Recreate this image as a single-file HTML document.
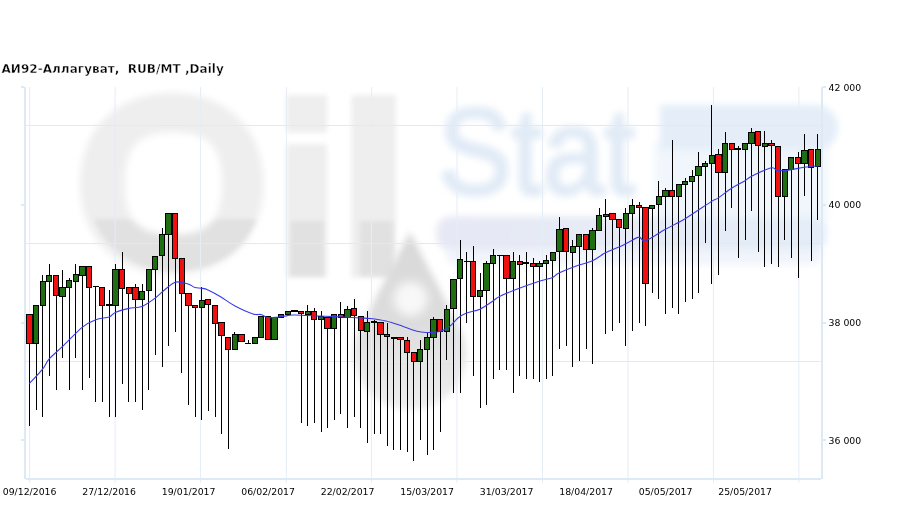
<!DOCTYPE html><html><head><meta charset="utf-8"><title>chart</title><style>
html,body{margin:0;padding:0;background:#fff}body{width:909px;height:509px;overflow:hidden;position:relative;font-family:"DejaVu Sans","Liberation Sans",sans-serif}
svg{position:absolute;left:0;top:0;display:block}
.t{font-family:"DejaVu Sans","Liberation Sans",sans-serif;font-weight:bold;font-size:12px;fill:#000;letter-spacing:0.04px;stroke:#fff;stroke-width:0.35px}
.l{font-family:"DejaVu Sans","Liberation Sans",sans-serif;font-size:9.33px;fill:#000}
</style></head><body>
<svg width="909" height="509" viewBox="0 0 909 509">
<defs><filter id="b6" x="-20%" y="-20%" width="140%" height="140%"><feGaussianBlur stdDeviation="5"/></filter><filter id="b3" x="-20%" y="-20%" width="140%" height="140%"><feGaussianBlur stdDeviation="2"/></filter><filter id="b25" x="-20%" y="-20%" width="140%" height="140%"><feGaussianBlur stdDeviation="2.6"/></filter><filter id="b4" x="-20%" y="-20%" width="140%" height="140%"><feGaussianBlur stdDeviation="3.5"/></filter><filter id="b8" x="-30%" y="-30%" width="160%" height="160%"><feGaussianBlur stdDeviation="7"/></filter></defs>
<rect width="909" height="509" fill="#fff"/>
<linearGradient id="tt" gradientUnits="userSpaceOnUse" x1="0" y1="0" x2="0" y2="509"><stop offset="0.43" stop-color="#eeeeee"/><stop offset="0.434" stop-color="#e5e5e5"/></linearGradient>
<clipPath id="low"><rect x="0" y="219" width="909" height="290"/></clipPath>
<linearGradient id="bg" gradientUnits="userSpaceOnUse" x1="437" y1="0" x2="826" y2="0"><stop offset="0" stop-color="#e6e8f4"/><stop offset="0.5" stop-color="#e6ebf6"/><stop offset="1" stop-color="#e3edf8"/></linearGradient>
<g id="wm">
<path filter="url(#b4)" fill="#eeeeee" d="M80.10000000000001,183.8 C80.10000000000001,129.32000000000002 116.78,93.00000000000001 171.8,93.00000000000001 C226.82000000000002,93.00000000000001 263.5,129.32000000000002 263.5,183.8 C263.5,238.28 226.82000000000002,274.6 171.8,274.6 C116.78,274.6 80.10000000000001,238.28 80.10000000000001,183.8 Z"/>
<g filter="url(#b3)"><path clip-path="url(#low)" fill="#e1e1e1" d="M87.89999999999999,183.8 C87.89999999999999,131.72000000000003 122.82,97.00000000000001 175.2,97.00000000000001 C227.57999999999998,97.00000000000001 262.5,131.72000000000003 262.5,183.8 C262.5,235.88 227.57999999999998,270.6 175.2,270.6 C122.82,270.6 87.89999999999999,235.88 87.89999999999999,183.8 Z"/></g>
<path filter="url(#b4)" fill="#ffffff" d="M124.80000000000001,183.5 C124.80000000000001,146.636 138.40800000000002,132.3 173.4,132.3 C208.392,132.3 222.0,146.636 222.0,183.5 C222.0,220.364 208.392,234.7 173.4,234.7 C138.40800000000002,234.7 124.80000000000001,220.364 124.80000000000001,183.5 Z"/>
<rect filter="url(#b25)" x="286.5" y="95" width="40.5" height="37.5" fill="#eeeeee"/>
<rect filter="url(#b25)" x="286.5" y="144" width="40.5" height="133.5" fill="#eeeeee"/>
<rect filter="url(#b3)" x="290.5" y="221" width="33" height="55" fill="#e1e1e1"/>
<rect filter="url(#b25)" x="351.5" y="95" width="44.5" height="182.5" fill="#eeeeee"/>
<rect filter="url(#b3)" x="360" y="221" width="33" height="55" fill="#e1e1e1"/>
<linearGradient id="dg" gradientUnits="userSpaceOnUse" x1="0" y1="232" x2="0" y2="411"><stop offset="0" stop-color="#d8d8d8"/><stop offset="0.5" stop-color="#dddddd"/><stop offset="1" stop-color="#eeeeee"/></linearGradient>
<path filter="url(#b4)" fill="url(#dg)" d="M409.9,232 L459.6,328.1 A56,56 0 1 1 360.2,328.1 Z"/>
<circle filter="url(#b6)" cx="410.6" cy="300" r="25" fill="#dcdcdc"/>
<circle filter="url(#b6)" cx="410.6" cy="299" r="17" fill="#f8f8f8"/>
<rect filter="url(#b6)" x="655" y="142" width="172" height="78" fill="#f0f6fb"/>
<text filter="url(#b4)" x="438" y="194" font-family="Liberation Sans,Arial,sans-serif" font-size="122" fill="#e1ebf6" stroke="#e1ebf6" stroke-width="3.5" stroke-linejoin="round" textLength="197" lengthAdjust="spacingAndGlyphs">Stat</text>
<path filter="url(#b4)" fill="#e4edf8" d="M660,105 H816 A22,22.5 0 0 1 816,150 H660 Z"/>
<rect filter="url(#b4)" x="446" y="246" width="376" height="19" rx="8" fill="#f1f5fb"/>
<rect filter="url(#b4)" x="436.5" y="216.5" width="390" height="34" rx="14" fill="url(#bg)"/>
</g>
<g>
<rect x="29.10" y="87" width="1" height="396" fill="#e5edf7"/>
<rect x="114.58" y="87" width="1" height="396" fill="#e5edf7"/>
<rect x="200.06" y="87" width="1" height="396" fill="#e5edf7"/>
<rect x="285.90" y="87" width="1" height="396" fill="#e5edf7"/>
<rect x="371.01" y="87" width="1" height="396" fill="#e5edf7"/>
<rect x="456.49" y="87" width="1" height="396" fill="#e5edf7"/>
<rect x="541.97" y="87" width="1" height="396" fill="#e5edf7"/>
<rect x="627.45" y="87" width="1" height="396" fill="#e5edf7"/>
<rect x="712.92" y="87" width="1" height="396" fill="#e5edf7"/>
<rect x="798.40" y="87" width="1" height="396" fill="#e5edf7"/>
</g><g shape-rendering="crispEdges">
<rect x="26" y="125" width="795" height="1" fill="#dfeaf5"/>
<rect x="26" y="243" width="795" height="1" fill="#dfeaf5"/>
<rect x="26" y="361" width="795" height="1" fill="#dfeaf5"/>
<rect x="24" y="87" width="2" height="392" fill="#dde9f4"/>
<rect x="821" y="87" width="2" height="392" fill="#dde9f4"/>
<rect x="26" y="478" width="795" height="2" fill="#dde9f4"/>
<rect x="21" y="86" width="3" height="2" fill="#dde9f4"/>
<rect x="823" y="86" width="3" height="2" fill="#dde9f4"/>
<rect x="21" y="204" width="3" height="2" fill="#dde9f4"/>
<rect x="823" y="204" width="3" height="2" fill="#dde9f4"/>
<rect x="21" y="322" width="3" height="2" fill="#dde9f4"/>
<rect x="823" y="322" width="3" height="2" fill="#dde9f4"/>
<rect x="21" y="439" width="3" height="2" fill="#dde9f4"/>
<rect x="823" y="439" width="3" height="2" fill="#dde9f4"/>
</g>
<g shape-rendering="crispEdges">
<rect x="29" y="314" width="1" height="112" fill="#000"/>
<rect x="26" y="314" width="7" height="30" fill="#000"/>
<rect x="27" y="315" width="5" height="28" fill="#f01010"/>
<rect x="36" y="305" width="1" height="105" fill="#000"/>
<rect x="33" y="305" width="6" height="39" fill="#000"/>
<rect x="34" y="306" width="4" height="37" fill="#1f6e12"/>
<rect x="42" y="275" width="1" height="142" fill="#000"/>
<rect x="40" y="281" width="6" height="25" fill="#000"/>
<rect x="41" y="282" width="4" height="23" fill="#1f6e12"/>
<rect x="49" y="264" width="1" height="112" fill="#000"/>
<rect x="46" y="275" width="6" height="7" fill="#000"/>
<rect x="47" y="276" width="4" height="5" fill="#1f6e12"/>
<rect x="56" y="275" width="1" height="115" fill="#000"/>
<rect x="53" y="275" width="6" height="21" fill="#000"/>
<rect x="54" y="276" width="4" height="19" fill="#f01010"/>
<rect x="62" y="270" width="1" height="88" fill="#000"/>
<rect x="59" y="287" width="7" height="10" fill="#000"/>
<rect x="60" y="288" width="5" height="8" fill="#1f6e12"/>
<rect x="69" y="278" width="1" height="112" fill="#000"/>
<rect x="66" y="280" width="6" height="8" fill="#000"/>
<rect x="67" y="281" width="4" height="6" fill="#1f6e12"/>
<rect x="75" y="264" width="1" height="94" fill="#000"/>
<rect x="73" y="274" width="6" height="8" fill="#000"/>
<rect x="74" y="275" width="4" height="6" fill="#1f6e12"/>
<rect x="82" y="266" width="1" height="124" fill="#000"/>
<rect x="79" y="266" width="7" height="10" fill="#000"/>
<rect x="80" y="267" width="5" height="8" fill="#1f6e12"/>
<rect x="89" y="266" width="1" height="112" fill="#000"/>
<rect x="86" y="266" width="6" height="22" fill="#000"/>
<rect x="87" y="267" width="4" height="20" fill="#f01010"/>
<rect x="95" y="286" width="1" height="116" fill="#000"/>
<rect x="93" y="286" width="6" height="1" fill="#000"/>
<rect x="102" y="287" width="1" height="115" fill="#000"/>
<rect x="99" y="287" width="6" height="19" fill="#000"/>
<rect x="100" y="288" width="4" height="17" fill="#f01010"/>
<rect x="109" y="290" width="1" height="127" fill="#000"/>
<rect x="106" y="304" width="6" height="2" fill="#000"/>
<rect x="115" y="264" width="1" height="153" fill="#000"/>
<rect x="112" y="269" width="7" height="37" fill="#000"/>
<rect x="113" y="270" width="5" height="35" fill="#1f6e12"/>
<rect x="122" y="252" width="1" height="132" fill="#000"/>
<rect x="119" y="269" width="6" height="20" fill="#000"/>
<rect x="120" y="270" width="4" height="18" fill="#f01010"/>
<rect x="128" y="287" width="1" height="115" fill="#000"/>
<rect x="126" y="287" width="6" height="7" fill="#000"/>
<rect x="127" y="288" width="4" height="5" fill="#f01010"/>
<rect x="135" y="284" width="1" height="118" fill="#000"/>
<rect x="132" y="287" width="7" height="13" fill="#000"/>
<rect x="133" y="288" width="5" height="11" fill="#f01010"/>
<rect x="142" y="284" width="1" height="126" fill="#000"/>
<rect x="139" y="291" width="6" height="9" fill="#000"/>
<rect x="140" y="292" width="4" height="7" fill="#1f6e12"/>
<rect x="148" y="269" width="1" height="121" fill="#000"/>
<rect x="146" y="269" width="6" height="22" fill="#000"/>
<rect x="147" y="270" width="4" height="20" fill="#1f6e12"/>
<rect x="155" y="256" width="1" height="99" fill="#000"/>
<rect x="152" y="256" width="6" height="14" fill="#000"/>
<rect x="153" y="257" width="4" height="12" fill="#1f6e12"/>
<rect x="162" y="228" width="1" height="139" fill="#000"/>
<rect x="159" y="234" width="6" height="22" fill="#000"/>
<rect x="160" y="235" width="4" height="20" fill="#1f6e12"/>
<rect x="168" y="213" width="1" height="133" fill="#000"/>
<rect x="165" y="213" width="7" height="22" fill="#000"/>
<rect x="166" y="214" width="5" height="20" fill="#1f6e12"/>
<rect x="175" y="213" width="1" height="119" fill="#000"/>
<rect x="172" y="213" width="6" height="46" fill="#000"/>
<rect x="173" y="214" width="4" height="44" fill="#f01010"/>
<rect x="181" y="258" width="1" height="115" fill="#000"/>
<rect x="179" y="258" width="6" height="36" fill="#000"/>
<rect x="180" y="259" width="4" height="34" fill="#f01010"/>
<rect x="188" y="293" width="1" height="112" fill="#000"/>
<rect x="185" y="293" width="7" height="13" fill="#000"/>
<rect x="186" y="294" width="5" height="11" fill="#f01010"/>
<rect x="195" y="305" width="1" height="112" fill="#000"/>
<rect x="192" y="305" width="6" height="3" fill="#000"/>
<rect x="193" y="306" width="4" height="1" fill="#f01010"/>
<rect x="201" y="287" width="1" height="133" fill="#000"/>
<rect x="199" y="300" width="6" height="8" fill="#000"/>
<rect x="200" y="301" width="4" height="6" fill="#1f6e12"/>
<rect x="208" y="299" width="1" height="112" fill="#000"/>
<rect x="205" y="299" width="6" height="6" fill="#000"/>
<rect x="206" y="300" width="4" height="4" fill="#f01010"/>
<rect x="215" y="305" width="1" height="112" fill="#000"/>
<rect x="212" y="305" width="6" height="19" fill="#000"/>
<rect x="213" y="306" width="4" height="17" fill="#f01010"/>
<rect x="221" y="322" width="1" height="112" fill="#000"/>
<rect x="218" y="322" width="7" height="14" fill="#000"/>
<rect x="219" y="323" width="5" height="12" fill="#f01010"/>
<rect x="228" y="337" width="1" height="112" fill="#000"/>
<rect x="225" y="337" width="6" height="13" fill="#000"/>
<rect x="226" y="338" width="4" height="11" fill="#f01010"/>
<rect x="234" y="332" width="1" height="18" fill="#000"/>
<rect x="232" y="334" width="6" height="16" fill="#000"/>
<rect x="233" y="335" width="4" height="14" fill="#1f6e12"/>
<rect x="241" y="334" width="1" height="8" fill="#000"/>
<rect x="238" y="334" width="7" height="8" fill="#000"/>
<rect x="239" y="335" width="5" height="6" fill="#f01010"/>
<rect x="248" y="340" width="1" height="3" fill="#000"/>
<rect x="245" y="343" width="6" height="1" fill="#000"/>
<rect x="254" y="337" width="1" height="7" fill="#000"/>
<rect x="252" y="337" width="6" height="7" fill="#000"/>
<rect x="253" y="338" width="4" height="5" fill="#1f6e12"/>
<rect x="261" y="316" width="1" height="22" fill="#000"/>
<rect x="258" y="316" width="6" height="22" fill="#000"/>
<rect x="259" y="317" width="4" height="20" fill="#1f6e12"/>
<rect x="268" y="316" width="1" height="24" fill="#000"/>
<rect x="265" y="316" width="6" height="24" fill="#000"/>
<rect x="266" y="317" width="4" height="22" fill="#f01010"/>
<rect x="274" y="317" width="1" height="23" fill="#000"/>
<rect x="271" y="317" width="7" height="23" fill="#000"/>
<rect x="272" y="318" width="5" height="21" fill="#1f6e12"/>
<rect x="281" y="314" width="1" height="4" fill="#000"/>
<rect x="278" y="314" width="6" height="4" fill="#000"/>
<rect x="279" y="315" width="4" height="2" fill="#1f6e12"/>
<rect x="287" y="311" width="1" height="4" fill="#000"/>
<rect x="285" y="311" width="6" height="4" fill="#000"/>
<rect x="286" y="312" width="4" height="2" fill="#1f6e12"/>
<rect x="294" y="310" width="1" height="1" fill="#000"/>
<rect x="291" y="310" width="7" height="2" fill="#000"/>
<rect x="301" y="311" width="1" height="112" fill="#000"/>
<rect x="298" y="311" width="6" height="3" fill="#000"/>
<rect x="299" y="312" width="4" height="1" fill="#f01010"/>
<rect x="307" y="305" width="1" height="121" fill="#000"/>
<rect x="305" y="311" width="6" height="4" fill="#000"/>
<rect x="306" y="312" width="4" height="2" fill="#1f6e12"/>
<rect x="314" y="308" width="1" height="115" fill="#000"/>
<rect x="311" y="311" width="6" height="9" fill="#000"/>
<rect x="312" y="312" width="4" height="7" fill="#f01010"/>
<rect x="321" y="311" width="1" height="121" fill="#000"/>
<rect x="318" y="316" width="6" height="4" fill="#000"/>
<rect x="319" y="317" width="4" height="2" fill="#1f6e12"/>
<rect x="327" y="317" width="1" height="111" fill="#000"/>
<rect x="324" y="317" width="7" height="12" fill="#000"/>
<rect x="325" y="318" width="5" height="10" fill="#f01010"/>
<rect x="334" y="314" width="1" height="106" fill="#000"/>
<rect x="331" y="314" width="6" height="15" fill="#000"/>
<rect x="332" y="315" width="4" height="13" fill="#1f6e12"/>
<rect x="340" y="302" width="1" height="112" fill="#000"/>
<rect x="338" y="314" width="6" height="4" fill="#000"/>
<rect x="339" y="315" width="4" height="2" fill="#f01010"/>
<rect x="347" y="306" width="1" height="122" fill="#000"/>
<rect x="344" y="309" width="7" height="9" fill="#000"/>
<rect x="345" y="310" width="5" height="7" fill="#1f6e12"/>
<rect x="354" y="299" width="1" height="118" fill="#000"/>
<rect x="351" y="308" width="6" height="8" fill="#000"/>
<rect x="352" y="309" width="4" height="6" fill="#f01010"/>
<rect x="360" y="316" width="1" height="112" fill="#000"/>
<rect x="358" y="316" width="6" height="15" fill="#000"/>
<rect x="359" y="317" width="4" height="13" fill="#f01010"/>
<rect x="367" y="311" width="1" height="132" fill="#000"/>
<rect x="364" y="322" width="6" height="10" fill="#000"/>
<rect x="365" y="323" width="4" height="8" fill="#1f6e12"/>
<rect x="374" y="320" width="1" height="114" fill="#000"/>
<rect x="371" y="321" width="6" height="2" fill="#000"/>
<rect x="380" y="322" width="1" height="112" fill="#000"/>
<rect x="377" y="322" width="7" height="13" fill="#000"/>
<rect x="378" y="323" width="5" height="11" fill="#f01010"/>
<rect x="387" y="323" width="1" height="123" fill="#000"/>
<rect x="384" y="334" width="6" height="3" fill="#000"/>
<rect x="385" y="335" width="4" height="1" fill="#f01010"/>
<rect x="393" y="337" width="1" height="113" fill="#000"/>
<rect x="391" y="337" width="6" height="2" fill="#000"/>
<rect x="400" y="337" width="1" height="113" fill="#000"/>
<rect x="397" y="337" width="7" height="3" fill="#000"/>
<rect x="398" y="338" width="5" height="1" fill="#f01010"/>
<rect x="407" y="337" width="1" height="115" fill="#000"/>
<rect x="404" y="340" width="6" height="13" fill="#000"/>
<rect x="405" y="341" width="4" height="11" fill="#f01010"/>
<rect x="413" y="352" width="1" height="109" fill="#000"/>
<rect x="411" y="352" width="6" height="10" fill="#000"/>
<rect x="412" y="353" width="4" height="8" fill="#f01010"/>
<rect x="420" y="340" width="1" height="100" fill="#000"/>
<rect x="417" y="349" width="6" height="13" fill="#000"/>
<rect x="418" y="350" width="4" height="11" fill="#1f6e12"/>
<rect x="427" y="332" width="1" height="123" fill="#000"/>
<rect x="424" y="337" width="6" height="13" fill="#000"/>
<rect x="425" y="338" width="4" height="11" fill="#1f6e12"/>
<rect x="433" y="317" width="1" height="133" fill="#000"/>
<rect x="430" y="319" width="7" height="19" fill="#000"/>
<rect x="431" y="320" width="5" height="17" fill="#1f6e12"/>
<rect x="440" y="319" width="1" height="113" fill="#000"/>
<rect x="437" y="319" width="6" height="13" fill="#000"/>
<rect x="438" y="320" width="4" height="11" fill="#f01010"/>
<rect x="446" y="305" width="1" height="55" fill="#000"/>
<rect x="444" y="309" width="6" height="23" fill="#000"/>
<rect x="445" y="310" width="4" height="21" fill="#1f6e12"/>
<rect x="453" y="279" width="1" height="114" fill="#000"/>
<rect x="450" y="279" width="7" height="30" fill="#000"/>
<rect x="451" y="280" width="5" height="28" fill="#1f6e12"/>
<rect x="460" y="240" width="1" height="153" fill="#000"/>
<rect x="457" y="259" width="6" height="20" fill="#000"/>
<rect x="458" y="260" width="4" height="18" fill="#1f6e12"/>
<rect x="466" y="252" width="1" height="71" fill="#000"/>
<rect x="464" y="261" width="6" height="1" fill="#000"/>
<rect x="473" y="246" width="1" height="130" fill="#000"/>
<rect x="470" y="261" width="6" height="36" fill="#000"/>
<rect x="471" y="262" width="4" height="34" fill="#f01010"/>
<rect x="480" y="273" width="1" height="135" fill="#000"/>
<rect x="477" y="290" width="6" height="7" fill="#000"/>
<rect x="478" y="291" width="4" height="5" fill="#1f6e12"/>
<rect x="486" y="261" width="1" height="144" fill="#000"/>
<rect x="483" y="263" width="7" height="28" fill="#000"/>
<rect x="484" y="264" width="5" height="26" fill="#1f6e12"/>
<rect x="493" y="249" width="1" height="130" fill="#000"/>
<rect x="490" y="255" width="6" height="9" fill="#000"/>
<rect x="491" y="256" width="4" height="7" fill="#1f6e12"/>
<rect x="499" y="255" width="1" height="115" fill="#000"/>
<rect x="497" y="255" width="6" height="1" fill="#000"/>
<rect x="506" y="255" width="1" height="115" fill="#000"/>
<rect x="503" y="255" width="7" height="24" fill="#000"/>
<rect x="504" y="256" width="5" height="22" fill="#f01010"/>
<rect x="513" y="252" width="1" height="141" fill="#000"/>
<rect x="510" y="261" width="6" height="18" fill="#000"/>
<rect x="511" y="262" width="4" height="16" fill="#1f6e12"/>
<rect x="519" y="255" width="1" height="121" fill="#000"/>
<rect x="517" y="261" width="6" height="4" fill="#000"/>
<rect x="518" y="262" width="4" height="2" fill="#f01010"/>
<rect x="526" y="252" width="1" height="127" fill="#000"/>
<rect x="523" y="262" width="6" height="2" fill="#000"/>
<rect x="533" y="258" width="1" height="121" fill="#000"/>
<rect x="530" y="263" width="6" height="4" fill="#000"/>
<rect x="531" y="264" width="4" height="2" fill="#f01010"/>
<rect x="539" y="261" width="1" height="121" fill="#000"/>
<rect x="536" y="263" width="7" height="4" fill="#000"/>
<rect x="537" y="264" width="5" height="2" fill="#1f6e12"/>
<rect x="546" y="255" width="1" height="124" fill="#000"/>
<rect x="543" y="260" width="6" height="4" fill="#000"/>
<rect x="544" y="261" width="4" height="2" fill="#1f6e12"/>
<rect x="552" y="252" width="1" height="124" fill="#000"/>
<rect x="550" y="252" width="6" height="9" fill="#000"/>
<rect x="551" y="253" width="4" height="7" fill="#1f6e12"/>
<rect x="559" y="217" width="1" height="132" fill="#000"/>
<rect x="556" y="229" width="7" height="23" fill="#000"/>
<rect x="557" y="230" width="5" height="21" fill="#1f6e12"/>
<rect x="566" y="228" width="1" height="118" fill="#000"/>
<rect x="563" y="228" width="6" height="24" fill="#000"/>
<rect x="564" y="229" width="4" height="22" fill="#f01010"/>
<rect x="572" y="240" width="1" height="127" fill="#000"/>
<rect x="570" y="246" width="6" height="7" fill="#000"/>
<rect x="571" y="247" width="4" height="5" fill="#1f6e12"/>
<rect x="579" y="234" width="1" height="127" fill="#000"/>
<rect x="576" y="234" width="6" height="13" fill="#000"/>
<rect x="577" y="235" width="4" height="11" fill="#1f6e12"/>
<rect x="586" y="234" width="1" height="115" fill="#000"/>
<rect x="583" y="234" width="6" height="16" fill="#000"/>
<rect x="584" y="235" width="4" height="14" fill="#f01010"/>
<rect x="592" y="228" width="1" height="136" fill="#000"/>
<rect x="589" y="230" width="7" height="20" fill="#000"/>
<rect x="590" y="231" width="5" height="18" fill="#1f6e12"/>
<rect x="599" y="208" width="1" height="23" fill="#000"/>
<rect x="596" y="215" width="6" height="16" fill="#000"/>
<rect x="597" y="216" width="4" height="14" fill="#1f6e12"/>
<rect x="605" y="199" width="1" height="135" fill="#000"/>
<rect x="603" y="214" width="6" height="3" fill="#000"/>
<rect x="604" y="215" width="4" height="1" fill="#1f6e12"/>
<rect x="612" y="213" width="1" height="118" fill="#000"/>
<rect x="609" y="213" width="7" height="7" fill="#000"/>
<rect x="610" y="214" width="5" height="5" fill="#f01010"/>
<rect x="619" y="219" width="1" height="104" fill="#000"/>
<rect x="616" y="219" width="6" height="9" fill="#000"/>
<rect x="617" y="220" width="4" height="7" fill="#f01010"/>
<rect x="625" y="208" width="1" height="138" fill="#000"/>
<rect x="623" y="213" width="6" height="16" fill="#000"/>
<rect x="624" y="214" width="4" height="14" fill="#1f6e12"/>
<rect x="632" y="199" width="1" height="132" fill="#000"/>
<rect x="629" y="205" width="6" height="9" fill="#000"/>
<rect x="630" y="206" width="4" height="7" fill="#1f6e12"/>
<rect x="639" y="202" width="1" height="121" fill="#000"/>
<rect x="636" y="205" width="6" height="3" fill="#000"/>
<rect x="637" y="206" width="4" height="1" fill="#f01010"/>
<rect x="645" y="207" width="1" height="119" fill="#000"/>
<rect x="642" y="207" width="7" height="77" fill="#000"/>
<rect x="643" y="208" width="5" height="75" fill="#f01010"/>
<rect x="652" y="205" width="1" height="88" fill="#000"/>
<rect x="649" y="205" width="6" height="4" fill="#000"/>
<rect x="650" y="206" width="4" height="2" fill="#1f6e12"/>
<rect x="658" y="181" width="1" height="118" fill="#000"/>
<rect x="656" y="196" width="6" height="9" fill="#000"/>
<rect x="657" y="197" width="4" height="7" fill="#1f6e12"/>
<rect x="665" y="188" width="1" height="126" fill="#000"/>
<rect x="662" y="190" width="7" height="7" fill="#000"/>
<rect x="663" y="191" width="5" height="5" fill="#1f6e12"/>
<rect x="672" y="140" width="1" height="168" fill="#000"/>
<rect x="669" y="190" width="6" height="7" fill="#000"/>
<rect x="670" y="191" width="4" height="5" fill="#f01010"/>
<rect x="678" y="184" width="1" height="130" fill="#000"/>
<rect x="676" y="184" width="6" height="13" fill="#000"/>
<rect x="677" y="185" width="4" height="11" fill="#1f6e12"/>
<rect x="685" y="178" width="1" height="124" fill="#000"/>
<rect x="682" y="181" width="6" height="4" fill="#000"/>
<rect x="683" y="182" width="4" height="2" fill="#1f6e12"/>
<rect x="692" y="170" width="1" height="129" fill="#000"/>
<rect x="689" y="176" width="6" height="6" fill="#000"/>
<rect x="690" y="177" width="4" height="4" fill="#1f6e12"/>
<rect x="698" y="152" width="1" height="141" fill="#000"/>
<rect x="695" y="166" width="7" height="10" fill="#000"/>
<rect x="696" y="167" width="5" height="8" fill="#1f6e12"/>
<rect x="705" y="161" width="1" height="82" fill="#000"/>
<rect x="702" y="163" width="6" height="4" fill="#000"/>
<rect x="703" y="164" width="4" height="2" fill="#1f6e12"/>
<rect x="711" y="105" width="1" height="179" fill="#000"/>
<rect x="709" y="155" width="6" height="9" fill="#000"/>
<rect x="710" y="156" width="4" height="7" fill="#1f6e12"/>
<rect x="718" y="149" width="1" height="126" fill="#000"/>
<rect x="715" y="154" width="7" height="19" fill="#000"/>
<rect x="716" y="155" width="5" height="17" fill="#f01010"/>
<rect x="725" y="132" width="1" height="99" fill="#000"/>
<rect x="722" y="143" width="6" height="30" fill="#000"/>
<rect x="723" y="144" width="4" height="28" fill="#1f6e12"/>
<rect x="731" y="143" width="1" height="65" fill="#000"/>
<rect x="729" y="143" width="6" height="7" fill="#000"/>
<rect x="730" y="144" width="4" height="5" fill="#f01010"/>
<rect x="738" y="146" width="1" height="112" fill="#000"/>
<rect x="735" y="148" width="6" height="2" fill="#000"/>
<rect x="745" y="143" width="1" height="97" fill="#000"/>
<rect x="742" y="143" width="6" height="7" fill="#000"/>
<rect x="743" y="144" width="4" height="5" fill="#1f6e12"/>
<rect x="751" y="128" width="1" height="83" fill="#000"/>
<rect x="748" y="132" width="7" height="12" fill="#000"/>
<rect x="749" y="133" width="5" height="10" fill="#1f6e12"/>
<rect x="758" y="131" width="1" height="121" fill="#000"/>
<rect x="755" y="131" width="6" height="15" fill="#000"/>
<rect x="756" y="132" width="4" height="13" fill="#f01010"/>
<rect x="764" y="131" width="1" height="136" fill="#000"/>
<rect x="762" y="143" width="6" height="4" fill="#000"/>
<rect x="763" y="144" width="4" height="2" fill="#1f6e12"/>
<rect x="771" y="140" width="1" height="124" fill="#000"/>
<rect x="768" y="143" width="7" height="3" fill="#000"/>
<rect x="769" y="144" width="5" height="1" fill="#f01010"/>
<rect x="778" y="146" width="1" height="121" fill="#000"/>
<rect x="775" y="146" width="6" height="51" fill="#000"/>
<rect x="776" y="147" width="4" height="49" fill="#f01010"/>
<rect x="784" y="169" width="1" height="71" fill="#000"/>
<rect x="782" y="169" width="6" height="28" fill="#000"/>
<rect x="783" y="170" width="4" height="26" fill="#1f6e12"/>
<rect x="791" y="157" width="1" height="101" fill="#000"/>
<rect x="788" y="157" width="6" height="13" fill="#000"/>
<rect x="789" y="158" width="4" height="11" fill="#1f6e12"/>
<rect x="798" y="152" width="1" height="126" fill="#000"/>
<rect x="795" y="157" width="6" height="7" fill="#000"/>
<rect x="796" y="158" width="4" height="5" fill="#f01010"/>
<rect x="804" y="134" width="1" height="62" fill="#000"/>
<rect x="801" y="150" width="7" height="14" fill="#000"/>
<rect x="802" y="151" width="5" height="12" fill="#1f6e12"/>
<rect x="811" y="149" width="1" height="112" fill="#000"/>
<rect x="808" y="149" width="6" height="19" fill="#000"/>
<rect x="809" y="150" width="4" height="17" fill="#f01010"/>
<rect x="817" y="134" width="1" height="86" fill="#000"/>
<rect x="815" y="149" width="6" height="18" fill="#000"/>
<rect x="816" y="150" width="4" height="16" fill="#1f6e12"/>
</g>
<path d="M29.4,383.6 C31.6,381.2 39.3,373.3 42.6,369.2 C45.9,365.1 45.7,362.9 49.0,359.1 C52.3,355.4 56.7,352.0 62.3,346.7 C67.9,341.4 76.9,331.6 82.5,327.1 C88.1,322.6 91.3,321.4 95.8,319.7 C100.2,318.0 105.9,318.2 109.2,317.0 C112.5,315.8 112.1,313.8 115.4,312.4 C118.7,311.0 124.4,309.4 128.8,308.4 C133.2,307.4 137.6,308.1 142.0,306.4 C146.4,304.7 151.8,300.6 155.3,298.0 C158.9,295.4 160.0,293.6 163.3,291.0 C166.6,288.4 171.2,283.4 175.3,282.2 C179.4,281.0 184.7,283.1 188.0,284.0 C191.3,284.9 192.8,286.9 195.0,287.6 C197.2,288.3 199.2,287.8 201.4,288.2 C203.6,288.6 204.7,288.5 208.0,290.0 C211.3,291.5 216.5,294.3 221.0,297.0 C225.5,299.7 229.7,303.2 235.0,306.0 C240.3,308.8 248.7,312.6 253.0,314.0 C257.3,315.4 258.5,313.9 261.0,314.5 C263.5,315.1 265.0,317.3 268.0,317.7 C271.0,318.1 274.8,317.4 279.0,317.0 C283.2,316.6 288.3,315.2 293.0,315.0 C297.7,314.8 301.7,315.3 307.0,315.5 C312.3,315.7 318.3,315.9 325.0,316.2 C331.7,316.5 341.0,316.9 347.0,317.2 C353.0,317.5 357.2,317.8 361.0,318.0 C364.8,318.2 365.8,318.0 370.0,318.5 C374.2,319.0 380.7,319.8 386.0,321.0 C391.3,322.2 397.0,324.3 402.0,326.0 C407.0,327.7 412.0,329.9 416.0,331.0 C420.0,332.1 422.3,332.4 426.0,332.5 C429.7,332.6 434.3,332.4 438.0,331.7 C441.7,330.9 444.7,330.3 448.0,328.0 C451.3,325.7 455.0,320.5 458.0,318.0 C461.0,315.5 462.3,314.7 466.0,313.2 C469.7,311.7 475.5,311.2 480.0,309.2 C484.5,307.2 489.7,303.2 493.0,301.0 C496.3,298.8 495.5,298.3 500.0,296.2 C504.5,294.1 513.3,290.6 520.0,288.1 C526.7,285.6 534.7,282.8 540.0,281.1 C545.3,279.4 548.8,279.0 552.0,277.7 C555.2,276.4 554.5,275.2 559.0,273.1 C563.5,271.0 573.5,267.1 579.0,265.1 C584.5,263.1 587.7,263.1 592.0,261.1 C596.3,259.1 600.5,255.4 605.0,253.1 C609.5,250.8 615.0,248.8 619.0,247.0 C623.0,245.2 625.6,243.7 629.0,242.0 C632.4,240.3 636.5,237.3 639.2,237.1 C641.9,236.9 641.1,242.1 645.4,240.8 C649.7,239.6 658.2,233.4 665.0,229.6 C671.8,225.8 678.2,222.9 686.0,218.2 C693.8,213.4 706.7,204.4 712.0,201.1 C717.3,197.8 714.7,200.3 718.0,198.1 C721.3,195.9 727.6,190.8 732.0,188.0 C736.4,185.2 740.9,183.2 744.2,181.2 C747.5,179.2 747.5,178.2 752.0,176.0 C756.5,173.8 767.1,168.7 771.3,167.8 C775.5,166.9 774.5,170.2 777.3,170.6 C780.1,171.0 783.8,170.6 788.3,170.1 C792.8,169.6 799.3,168.0 804.3,167.3 C809.3,166.6 816.0,166.1 818.4,165.9" fill="none" stroke="#3a3ae6" stroke-width="1.1" stroke-linejoin="round"/>
<g opacity="0.999">
<text class="t" x="1.5" y="73.2" xml:space="preserve">АИ92-Аллагуват,&#160;&#160;RUB/MT ,Daily</text>
<g opacity="0.999">
<text class="l" x="828.6" y="91.3">42 000</text>
<text class="l" x="828.6" y="208.3">40 000</text>
<text class="l" x="828.6" y="326.3">38 000</text>
<text class="l" x="828.6" y="444.3">36 000</text>
<text class="l" x="29.6" y="495" text-anchor="middle">09/12/2016</text>
<text class="l" x="109.1" y="495" text-anchor="middle">27/12/2016</text>
<text class="l" x="188.6" y="495" text-anchor="middle">19/01/2017</text>
<text class="l" x="268.1" y="495" text-anchor="middle">06/02/2017</text>
<text class="l" x="347.6" y="495" text-anchor="middle">22/02/2017</text>
<text class="l" x="427.1" y="495" text-anchor="middle">15/03/2017</text>
<text class="l" x="506.6" y="495" text-anchor="middle">31/03/2017</text>
<text class="l" x="586.1" y="495" text-anchor="middle">18/04/2017</text>
<text class="l" x="665.6" y="495" text-anchor="middle">05/05/2017</text>
<text class="l" x="745.1" y="495" text-anchor="middle">25/05/2017</text>
</g></g>
</svg></body></html>
